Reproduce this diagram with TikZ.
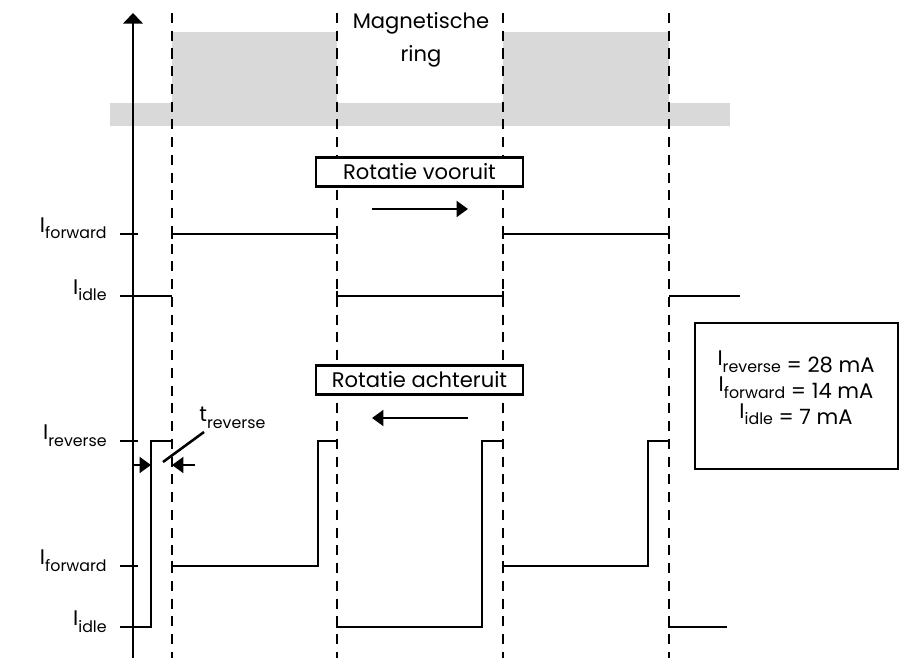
\documentclass[tikz,border=0pt]{standalone}
\usepackage{fontspec}
\setmainfont{Poppins}
\usetikzlibrary{arrows.meta}
\tikzstyle{guide} = [line width=1.5pt, dash pattern=on 5.7pt off 4.4pt]
\tikzstyle{wave} = [line width=1.45pt]
\tikzstyle{magnet} = [fill=black!15, draw=none]
\tikzstyle{rotbox} = [rectangle, minimum width=4.14cm, minimum height=0.58cm, inner sep=0pt, text centered, draw=black, line width=1.3pt, fill=white]
\tikzstyle{level} = [anchor=base east, inner sep=0pt]
\tikzstyle{arrow} = [line width=1.45pt, -{Triangle[length=6.5pt, width=9pt]}]
\tikzstyle{axis} = [line width=1.45pt, -{Triangle[length=6pt, width=11pt]}]
\newcommand{\cur}[2]{\raisebox{3.8pt}{#1}{\small #2}}

\begin{document}
\begin{tikzpicture}[x=0.02cm, y=-0.02cm, font=\fontsize{12}{14}\selectfont]
\useasboundingbox (0,0) rectangle (909,658);
% magnetic ring
\fill[magnet] (110,103) rectangle (730,126);
\fill[magnet] (172,32) rectangle (337,103);
\fill[magnet] (503,32) rectangle (669,103);
\node (ring) [align=center] at (421,40) {Magnetische\\[5pt]ring};

% current axis
\coordinate (origin) at (133,658);
\coordinate (top) at (133,13);
\draw[axis] (origin) -- (top);

% pole boundaries
\foreach \x in {172,337,503,669}
  \draw[guide] (\x,13) -- (\x,658);

% levels
\foreach \y/\name in {234/forward, 296/idle, 441/reverse, 566/forward, 627/idle} {
  \draw[wave] (120,\y) -- (138,\y);
  \node (lev\y) [level] at (107,\y+5) {\cur{I}{\name}};
}

% forward rotation
\draw[wave] (133,296) -- (172,296);
\draw[wave] (172,239) -- (172,234) -- (337,234) -- (337,239);
\draw[wave] (337,291) -- (337,296) -- (503,296) -- (503,291);
\draw[wave] (503,239) -- (503,234) -- (669,234) -- (669,239);
\draw[wave] (669,296) -- (740,296);

% reverse rotation
\draw[wave] (133,627) -- (151,627) -- (151,441) -- (172,441) -- (172,446);
\draw[wave] (172,561) -- (172,566) -- (318,566) -- (318,441) -- (337,441) -- (337,446);
\draw[wave] (337,622) -- (337,627) -- (482,627) -- (482,441) -- (503,441) -- (503,446);
\draw[wave] (503,561) -- (503,566) -- (648,566) -- (648,441) -- (669,441) -- (669,446);
\draw[wave] (669,622) -- (669,627) -- (727,627);

% direction labels
\node (fwd) [rotbox] at (419.5,172) {Rotatie vooruit};
\coordinate (fwdA) at (372,209);
\coordinate (fwdB) at (468,209);
\draw[arrow] (fwdA) -- (fwdB);
\node (rev) [rotbox] at (419.5,380) {Rotatie achteruit};
\coordinate (revA) at (468,418);
\coordinate (revB) at (372,418);
\draw[arrow] (revA) -- (revB);

% t reverse
\coordinate (tl) at (151,465);
\coordinate (tr) at (172,465);
\draw[arrow] (133,465) -- (tl);
\draw[arrow] (195,465) -- (tr);
\draw[wave] (163,462) -- (204,432);
\node (trev) [anchor=base west, inner sep=0pt] at (199,428) {\cur{t}{reverse}};

% values
\node (values) [draw=black, line width=1.3pt, minimum width=4.06cm, minimum height=2.92cm] at (796.5,396) {};
\node (valtext) [align=center] at (796,388) {\cur{I}{reverse} = 28 mA\\[1pt] \cur{I}{forward} = 14 mA\\[1pt] \cur{I}{idle} = 7 mA};
\end{tikzpicture}
\end{document}
